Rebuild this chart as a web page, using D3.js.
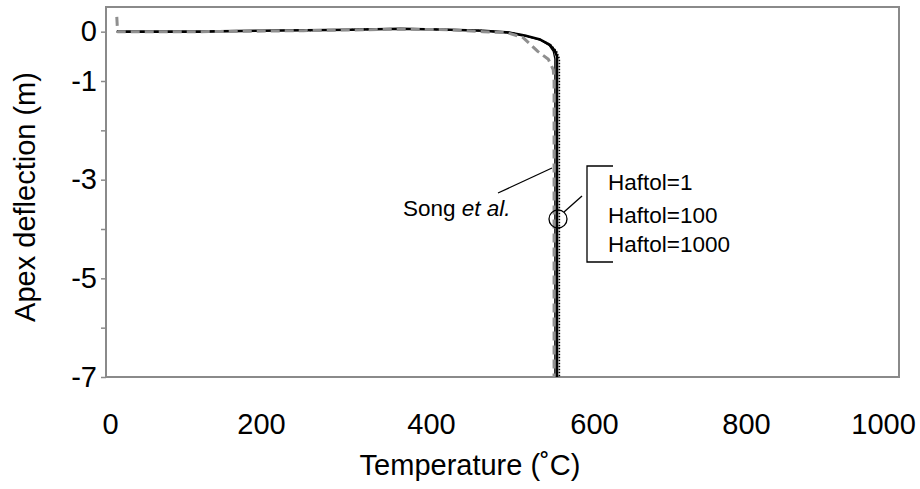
<!DOCTYPE html>
<html>
<head>
<meta charset="utf-8">
<script src="https://cdn.jsdelivr.net/npm/d3@7"></script>
<style>
  html, body { margin: 0; padding: 0; background: #fff; }
  svg { display: block; font-family: "Liberation Sans", Arial, sans-serif; }
</style>
</head>
<body>
<svg id="chart" width="920" height="489"></svg>
<script>
// ── Data ─────────────────────────────────────────────────────────
const xTicks = [0, 200, 400, 600, 800, 1000];
const yTicks = [0, -1, -2, -3, -4, -5, -6, -7];
const yLabelled = [0, -1, -3, -5, -7];

// Song et al. (grey dashed)
const songTemp = [9, 10, 120, 250, 364, 420, 464, 493, 513, 531, 544, 550, 551, 551];
const songDefl = [0.3, 0, 0, 0.02, 0.05, 0.04, 0.0, -0.02, -0.12, -0.40, -0.56, -0.77, -1.0, -7];

// Haftol = 1 (thick solid)
const h1Temp = [9, 120, 200, 305, 364, 423, 464, 497, 515, 534, 546, 552, 554.6, 554.6];
const h1Defl = [0, 0, 0.02, 0.04, 0.06, 0.04, 0.02, -0.02, -0.08, -0.16, -0.27, -0.39, -0.5, -7];

// Haftol = 100 (thin solid)
const h100Temp = [9, 120, 200, 305, 364, 423, 464, 497, 515, 534, 545, 550, 552, 552];
const h100Defl = [0, 0, 0.02, 0.04, 0.06, 0.04, 0.02, -0.02, -0.08, -0.17, -0.28, -0.40, -0.55, -7];

// Haftol = 1000 (dotted)
const h1000Temp = [250, 305, 364, 423, 464, 497, 515, 534, 547, 554, 557.5, 557.5];
const h1000Defl = [0.02, 0.04, 0.06, 0.04, 0.02, -0.02, -0.08, -0.16, -0.27, -0.40, -0.55, -7];

const labels = ['Haftol=1', 'Haftol=100', 'Haftol=1000'];
const labelBaselines = [190, 223, 252];

// ── Layout ───────────────────────────────────────────────────────
const plot = { left: 106, right: 899, top: 7, bottom: 377 };
const AXIS_GREY = '#8a8a8a';
const FONT = '"Liberation Sans", Arial, sans-serif';

const svg = d3.select('#chart');

// the reference's x labels are not evenly spaced, so a piecewise scale
const x = d3.scaleLinear()
  .domain(xTicks)
  .range([110, 261, 431, 594, 746, 883]);

const y = d3.scaleLinear()
  .domain([-7, 0.5])
  .range([plot.bottom, plot.top]);

// ── Frame ────────────────────────────────────────────────────────
svg.append('rect')
  .attr('x', plot.left).attr('y', plot.top)
  .attr('width', plot.right - plot.left)
  .attr('height', plot.bottom - plot.top)
  .attr('fill', 'none')
  .attr('stroke', AXIS_GREY)
  .attr('stroke-width', 2);

// ── Axes ─────────────────────────────────────────────────────────
const yAxis = svg.append('g')
  .attr('transform', `translate(${plot.left},0)`)
  .call(d3.axisLeft(y)
    .tickValues(yTicks)
    .tickSize(5)
    .tickPadding(4)
    .tickFormat(d => yLabelled.includes(d) ? String(d) : ''));
yAxis.select('.domain').remove();
yAxis.selectAll('.tick line').attr('stroke', AXIS_GREY).attr('stroke-width', 1.5);
yAxis.selectAll('.tick text')
  .attr('font-size', 29)
  .attr('font-family', FONT)
  .attr('fill', '#000');

const xAxis = svg.append('g')
  .attr('transform', `translate(0,${plot.bottom})`)
  .call(d3.axisBottom(x)
    .tickValues(xTicks)
    .tickSize(0)
    .tickPadding(36)
    .tickFormat(d3.format('d')));
xAxis.select('.domain').remove();
xAxis.selectAll('.tick text')
  .attr('font-size', 29)
  .attr('font-family', FONT)
  .attr('fill', '#000');

// Axis titles
svg.append('text')
  .attr('x', 470).attr('y', 475)
  .attr('text-anchor', 'middle')
  .attr('font-size', 29)
  .text('Temperature (˚C)');

svg.append('text')
  .attr('transform', 'translate(35,197) rotate(-90)')
  .attr('text-anchor', 'middle')
  .attr('font-size', 29)
  .text('Apex deflection (m)');

// ── Series ───────────────────────────────────────────────────────
const line = d3.line().x(d => x(d[0])).y(d => y(d[1]));
const zip = (a, b) => a.map((v, i) => [v, b[i]]);

const series = [
  { data: zip(h100Temp, h100Defl), stroke: '#000', width: 1.3, dash: null },
  { data: zip(h1000Temp, h1000Defl), stroke: '#000', width: 1.6, dash: '1.5,1.5' },
  { data: zip(h1Temp, h1Defl), stroke: '#000', width: 2.6, dash: null },
  { data: zip(songTemp, songDefl), stroke: '#8f8f8f', width: 3, dash: '9,5' },
];

svg.append('g')
  .selectAll('path')
  .data(series)
  .join('path')
  .attr('d', d => line(d.data))
  .attr('fill', 'none')
  .attr('stroke', d => d.stroke)
  .attr('stroke-width', d => d.width)
  .attr('stroke-dasharray', d => d.dash)
  .attr('stroke-linejoin', 'round');

// ── Annotations ──────────────────────────────────────────────────
const ann = svg.append('g').attr('fill', 'none').attr('stroke', '#000').attr('stroke-width', 1.3);

// Song et al. leader
ann.append('line').attr('x1', 498).attr('y1', 193).attr('x2', 552).attr('y2', 168);

const song = svg.append('text')
  .attr('x', 403).attr('y', 216)
  .attr('font-size', 22.5);
song.append('tspan').text('Song ');
song.append('tspan').attr('font-style', 'italic').text('et al.');

// circle + leader to bracket
ann.append('circle').attr('cx', 558).attr('cy', 219).attr('r', 9);
ann.append('line').attr('x1', 564).attr('y1', 212).attr('x2', 582).attr('y2', 196);

// bracket
ann.append('path')
  .attr('d', 'M613,166 H587 V262 H613');

svg.append('g')
  .selectAll('text')
  .data(labels)
  .join('text')
  .attr('x', 608)
  .attr('y', (d, i) => labelBaselines[i])
  .attr('font-size', 22.5)
  .text(d => d);
</script>
</body>
</html>
